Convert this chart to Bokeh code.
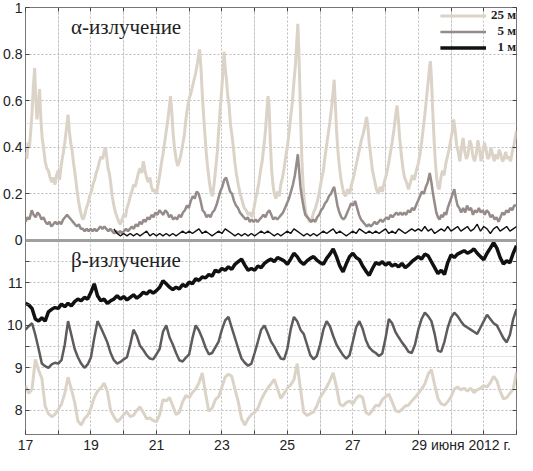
import numpy as np
from bokeh.plotting import figure
from bokeh.models import (Range1d, LinearAxis, FixedTicker, CustomJSTickFormatter,
                          Span, Label, Legend, LegendItem, Grid)
from bokeh.embed import file_html
from bokeh.resources import INLINE

# ---------------- data ----------------
DAY_TICKS = list(range(17, 33))
ALPHA_TICKS = [0.0, 0.2, 0.4, 0.6, 0.8, 1.0]
BETA_TICKS = [8.0, 8.5, 9.0, 9.5, 10.0, 10.5, 11.0, 11.5]
DATE_TEXT = "июня 2012 г."
DATE_DAY = 29
SERIES_NAMES = ["25 м", "\u20075 м", "\u20071 м"]
ALPHA_TITLE = "α-излучение"
BETA_TITLE = "β-излучение"

# alpha, 25 m  (day, value)
A25 = [(17.00,.38),(17.04,.35),(17.08,.42),(17.12,.40),(17.16,.47),(17.20,.55),(17.24,.66),(17.28,.74),
(17.31,.62),(17.35,.52),(17.39,.58),(17.43,.65),(17.47,.52),(17.51,.44),(17.55,.40),(17.60,.34),(17.65,.31),
(17.70,.30),(17.75,.27),(17.80,.25),(17.85,.27),(17.90,.24),(17.95,.28),(18.00,.30),(18.04,.26),(18.08,.31),
(18.12,.35),(18.16,.38),(18.20,.42),(18.25,.48),(18.30,.54),(18.34,.47),(18.38,.42),(18.42,.39),(18.47,.33),
(18.52,.28),(18.57,.22),(18.62,.17),(18.67,.13),(18.72,.10),(18.76,.09),(18.81,.11),(18.86,.14),(18.91,.16),
(18.96,.19),(19.01,.21),(19.06,.24),(19.11,.26),(19.16,.29),(19.21,.31),(19.26,.34),(19.31,.36),(19.36,.35),
(19.40,.38),(19.44,.40),(19.48,.36),(19.52,.31),(19.56,.29),(19.60,.25),(19.65,.19),(19.70,.15),(19.75,.12),
(19.80,.10),(19.85,.08),(19.90,.07),(19.95,.09),(20.00,.11),(20.05,.10),(20.10,.14),(20.15,.16),(20.20,.19),
(20.25,.21),(20.30,.24),(20.35,.23),(20.40,.26),(20.45,.29),(20.50,.31),(20.55,.29),(20.60,.34),(20.65,.30),
(20.70,.27),(20.75,.25),(20.80,.27),(20.85,.23),(20.90,.21),(20.95,.22),(21.00,.20),(21.05,.24),(21.10,.28),
(21.15,.33),(21.20,.37),(21.25,.42),(21.30,.47),(21.35,.52),(21.40,.58),(21.43,.62),(21.47,.55),(21.51,.46),
(21.55,.40),(21.60,.35),(21.65,.32),(21.70,.34),(21.75,.37),(21.80,.41),(21.85,.45),(21.90,.52),(21.95,.57),
(22.00,.61),(22.05,.63),(22.10,.66),(22.15,.69),(22.20,.72),(22.25,.76),(22.29,.80),(22.32,.82),(22.36,.74),
(22.40,.63),(22.44,.54),(22.48,.46),(22.52,.38),(22.56,.32),(22.61,.26),(22.66,.21),(22.71,.19),(22.76,.24),
(22.81,.31),(22.86,.38),(22.90,.47),(22.94,.55),(22.98,.62),(23.02,.70),(23.05,.77),(23.07,.81),(23.10,.74),
(23.14,.69),(23.18,.62),(23.22,.58),(23.26,.50),(23.30,.46),(23.35,.40),(23.40,.33),(23.45,.28),(23.50,.24),
(23.56,.20),(23.62,.17),(23.68,.14),(23.74,.13),(23.80,.11),(23.86,.12),(23.92,.10),(23.98,.14),(24.03,.18),
(24.08,.21),(24.13,.25),(24.18,.30),(24.23,.34),(24.28,.40),(24.33,.47),(24.37,.55),(24.41,.62),(24.44,.58),
(24.48,.42),(24.52,.30),(24.56,.24),(24.60,.20),(24.65,.18),(24.70,.21),(24.75,.19),(24.80,.24),(24.85,.27),
(24.90,.31),(24.95,.36),(25.00,.40),(25.05,.46),(25.10,.53),(25.15,.59),(25.20,.68),(25.25,.76),(25.29,.86),
(25.32,.93),(25.35,.82),(25.38,.66),(25.41,.50),(25.44,.36),(25.48,.24),(25.52,.17),(25.56,.12),(25.62,.10),
(25.68,.08),(25.74,.09),(25.80,.12),(25.86,.14),(25.92,.17),(25.98,.21),(26.04,.26),(26.10,.30),(26.15,.36),
(26.20,.41),(26.25,.46),(26.30,.51),(26.35,.57),(26.40,.64),(26.43,.69),(26.46,.60),(26.50,.48),(26.54,.39),
(26.58,.33),(26.63,.27),(26.68,.23),(26.73,.20),(26.78,.19),(26.84,.22),(26.90,.20),(26.96,.24),(27.02,.27),
(27.08,.31),(27.14,.35),(27.20,.39),(27.26,.43),(27.32,.46),(27.38,.50),(27.42,.53),(27.46,.49),(27.50,.42),
(27.55,.36),(27.60,.30),(27.66,.26),(27.72,.22),(27.78,.20),(27.84,.23),(27.90,.21),(27.96,.25),(28.02,.28),
(28.08,.32),(28.14,.37),(28.20,.42),(28.26,.48),(28.31,.54),(28.35,.58),(28.39,.52),(28.43,.44),(28.48,.37),
(28.53,.31),(28.58,.27),(28.64,.25),(28.70,.22),(28.76,.25),(28.82,.28),(28.88,.26),(28.94,.30),(29.00,.33),
(29.05,.37),(29.10,.42),(29.15,.48),(29.20,.54),(29.25,.61),(29.30,.68),(29.34,.74),(29.37,.77),(29.40,.70),
(29.44,.56),(29.48,.44),(29.52,.34),(29.56,.27),(29.60,.23),(29.64,.22),(29.69,.27),(29.74,.30),(29.79,.28),
(29.84,.33),(29.89,.36),(29.94,.39),(29.99,.43),(30.04,.47),(30.08,.52),(30.12,.48),(30.17,.41),(30.22,.38),
(30.27,.34),(30.32,.40),(30.37,.44),(30.42,.38),(30.47,.35),(30.52,.37),(30.57,.43),(30.62,.41),(30.67,.36),
(30.72,.34),(30.77,.37),(30.82,.43),(30.87,.39),(30.92,.34),(30.97,.38),(31.02,.42),(31.07,.39),(31.12,.35),
(31.17,.36),(31.22,.40),(31.27,.37),(31.32,.34),(31.37,.37),(31.42,.35),(31.47,.39),(31.52,.37),(31.57,.34),
(31.62,.35),(31.67,.38),(31.72,.35),(31.77,.36),(31.82,.34),(31.87,.38),(31.92,.41),(31.96,.44),(32.00,.47)]

# alpha, 5 m  (day, value)
A5 = [(17.00,.08),(17.06,.10),(17.12,.09),(17.19,.13),(17.25,.11),(17.31,.10),(17.37,.12),(17.43,.11),
(17.49,.09),(17.55,.10),(17.61,.08),(17.67,.07),(17.73,.08),(17.79,.06),(17.85,.07),(17.91,.08),(17.97,.07),
(18.03,.08),(18.09,.07),(18.15,.09),(18.21,.10),(18.27,.11),(18.33,.10),(18.39,.09),(18.45,.08),(18.51,.07),
(18.57,.06),(18.63,.07),(18.69,.05),(18.75,.05),(18.81,.04),(18.87,.05),(18.93,.04),(18.99,.05),(19.05,.04),
(19.11,.05),(19.17,.04),(19.23,.05),(19.29,.06),(19.35,.05),(19.41,.06),(19.47,.05),(19.53,.04),(19.59,.05),
(19.65,.04),(19.71,.03),(19.77,.04),(19.83,.03),(19.89,.04),(19.95,.03),(20.01,.04),(20.07,.05),(20.13,.04),
(20.19,.05),(20.25,.06),(20.31,.05),(20.37,.07),(20.43,.06),(20.49,.08),(20.55,.07),(20.61,.09),(20.67,.08),
(20.73,.10),(20.79,.09),(20.85,.11),(20.91,.10),(20.97,.12),(21.03,.11),(21.09,.13),(21.15,.12),(21.21,.11),
(21.27,.13),(21.33,.12),(21.39,.10),(21.45,.11),(21.51,.09),(21.57,.10),(21.63,.09),(21.69,.11),(21.75,.10),
(21.81,.12),(21.87,.13),(21.93,.15),(21.99,.14),(22.05,.17),(22.11,.19),(22.17,.18),(22.23,.21),(22.29,.20),
(22.35,.17),(22.41,.13),(22.47,.12),(22.53,.10),(22.59,.11),(22.65,.10),(22.71,.12),(22.77,.13),(22.83,.15),
(22.89,.18),(22.95,.21),(23.01,.23),(23.07,.26),(23.13,.27),(23.19,.24),(23.25,.21),(23.31,.20),(23.37,.17),
(23.43,.15),(23.49,.14),(23.55,.12),(23.61,.11),(23.67,.10),(23.73,.09),(23.79,.10),(23.85,.08),(23.91,.09),
(23.97,.08),(24.03,.09),(24.09,.08),(24.15,.09),(24.21,.10),(24.27,.11),(24.33,.10),(24.39,.12),(24.45,.13),
(24.51,.11),(24.57,.09),(24.63,.10),(24.69,.09),(24.75,.10),(24.81,.11),(24.87,.12),(24.93,.14),(24.99,.16),
(25.05,.18),(25.11,.21),(25.17,.24),(25.23,.28),(25.29,.34),(25.32,.37),(25.36,.30),(25.40,.23),(25.45,.18),
(25.50,.14),(25.55,.11),(25.61,.10),(25.67,.09),(25.73,.08),(25.79,.09),(25.85,.08),(25.91,.10),(25.97,.11),
(26.03,.13),(26.09,.14),(26.15,.16),(26.21,.17),(26.27,.19),(26.33,.20),(26.39,.22),(26.43,.23),(26.48,.19),
(26.53,.15),(26.59,.12),(26.65,.10),(26.71,.09),(26.77,.10),(26.83,.12),(26.89,.14),(26.95,.16),(27.01,.15),
(27.07,.17),(27.13,.14),(27.19,.11),(27.25,.09),(27.31,.08),(27.37,.07),(27.43,.06),(27.49,.07),(27.55,.06),
(27.61,.07),(27.67,.08),(27.73,.07),(27.79,.08),(27.85,.09),(27.91,.08),(27.97,.09),(28.03,.10),(28.09,.09),
(28.15,.11),(28.21,.10),(28.27,.11),(28.33,.12),(28.39,.11),(28.45,.12),(28.51,.11),(28.57,.12),(28.63,.11),
(28.69,.13),(28.75,.12),(28.81,.14),(28.87,.13),(28.93,.15),(28.99,.17),(29.05,.19),(29.11,.21),(29.17,.20),
(29.23,.23),(29.29,.25),(29.35,.29),(29.40,.25),(29.45,.20),(29.50,.16),(29.55,.12),(29.60,.10),(29.65,.09),
(29.70,.11),(29.75,.10),(29.80,.12),(29.85,.11),(29.90,.14),(29.95,.16),(30.00,.18),(30.05,.20),(30.10,.22),
(30.15,.18),(30.20,.15),(30.25,.14),(30.31,.12),(30.37,.14),(30.43,.12),(30.49,.15),(30.55,.13),(30.61,.14),
(30.67,.11),(30.73,.13),(30.79,.12),(30.85,.14),(30.91,.12),(30.97,.13),(31.03,.11),(31.09,.13),(31.15,.12),
(31.21,.10),(31.27,.11),(31.33,.09),(31.39,.10),(31.45,.08),(31.51,.10),(31.57,.12),(31.63,.11),(31.69,.13),
(31.75,.12),(31.81,.14),(31.87,.13),(31.93,.15),(32.00,.15)]

# alpha, 1 m: values every 0.1 day starting at day 19.7
A1_START = 19.7
A1 = [.05,.03,.02,.03,.02,.03,.02,.03,.02,.03,.04,.02,.03,.02,.03,.02,.03,.02,.03,.02,.03,.04,.03,.04,.03,.04,
.05,.03,.04,.03,.02,.03,.04,.03,.05,.04,.03,.02,.03,.02,.03,.02,.03,.02,.03,.04,.03,.04,.03,.02,.03,.02,.03,.04,
.03,.05,.04,.03,.02,.03,.02,.03,.02,.03,.04,.03,.04,.05,.03,.04,.03,.02,.03,.04,.03,.05,.04,.03,.04,.03,.04,.03,
.04,.05,.03,.04,.03,.05,.04,.03,.04,.05,.04,.05,.04,.06,.04,.05,.03,.04,.05,.04,.06,.04,.05,.06,.04,.05,.06,.04,
.05,.07,.04,.06,.05,.03,.05,.06,.04,.05,.06,.04,.05,.06]

# beta series: values every 0.1 day from day 17.0 to 32.0
B_START = 17.0
B1 = [10.52,10.48,10.40,10.15,10.10,10.18,10.10,10.32,10.38,10.42,10.40,10.50,10.44,10.52,10.46,10.56,10.62,
10.58,10.66,10.62,10.78,10.98,10.70,10.58,10.62,10.52,10.58,10.62,10.70,10.62,10.68,10.60,10.66,10.72,10.64,
10.70,10.78,10.74,10.82,10.76,10.82,10.90,11.05,10.98,10.90,10.84,10.90,10.86,10.96,10.92,11.02,10.98,11.10,
11.06,11.14,11.12,11.20,11.16,11.30,11.26,11.34,11.30,11.38,11.32,11.44,11.50,11.56,11.42,11.30,11.34,11.30,
11.40,11.36,11.46,11.52,11.56,11.50,11.60,11.56,11.52,11.44,11.56,11.70,11.62,11.50,11.44,11.52,11.58,11.62,
11.54,11.48,11.44,11.58,11.68,11.80,11.62,11.40,11.26,11.45,11.62,11.70,11.60,11.55,11.40,11.28,11.18,11.34,
11.48,11.44,11.50,11.42,11.48,11.40,11.44,11.38,11.46,11.36,11.42,11.50,11.56,11.62,11.56,11.68,11.64,11.50,
11.36,11.22,11.30,11.20,11.48,11.66,11.60,11.68,11.72,11.76,11.70,11.74,11.80,11.70,11.62,11.55,11.70,11.82,
11.95,11.82,11.60,11.45,11.52,11.48,11.70,11.88]
B5 = [9.90,9.98,10.05,9.78,9.45,9.10,9.04,9.00,9.08,9.12,9.10,9.18,9.55,10.10,9.78,9.45,9.25,9.10,9.00,9.08,
9.25,9.70,10.10,9.95,9.78,9.60,9.35,9.18,9.10,9.14,9.20,9.25,9.55,9.90,9.75,9.52,9.42,9.30,9.22,9.20,9.32,9.45,
9.85,10.00,9.72,9.55,9.35,9.18,9.15,9.24,9.32,9.70,10.00,9.88,9.70,9.48,9.32,9.35,9.48,9.62,9.90,10.12,10.20,
9.95,9.70,9.45,9.22,9.12,9.05,9.10,9.35,9.62,9.90,10.00,9.82,9.62,9.50,9.35,9.22,9.20,9.45,9.90,10.20,10.10,
9.90,9.80,9.55,9.30,9.20,9.28,9.55,9.90,10.10,9.98,9.75,9.55,9.42,9.30,9.22,9.30,9.62,9.95,10.10,9.92,9.65,
9.48,9.40,9.35,9.28,9.34,9.70,10.15,10.05,9.85,9.72,9.60,9.50,9.38,9.35,9.55,9.90,10.15,10.30,10.22,10.10,
9.80,9.40,9.38,9.62,9.95,10.18,10.30,10.22,10.10,10.00,9.95,9.90,9.85,9.80,9.95,10.10,10.25,10.15,10.05,10.00,
9.85,9.70,9.60,9.78,10.15,10.38]
B25 = [8.58,8.40,8.50,9.20,8.95,8.75,8.10,7.92,7.85,7.90,8.02,8.15,8.40,8.78,8.50,8.20,7.75,7.65,7.80,7.88,
8.05,8.30,8.45,8.52,8.64,8.45,8.00,7.85,7.73,7.80,7.90,7.96,7.85,7.88,8.00,8.08,7.95,7.80,7.82,7.76,7.73,7.90,
8.25,8.22,8.30,8.10,7.90,7.95,8.20,8.35,8.30,8.42,8.50,8.65,8.88,8.40,7.98,8.05,8.25,8.32,8.55,8.78,8.85,8.80,
8.50,8.20,7.80,7.65,7.80,7.90,7.95,8.05,8.25,8.40,8.52,8.62,8.73,8.50,8.28,8.40,8.52,8.60,8.72,9.10,8.50,7.95,
7.88,7.92,7.96,8.10,8.30,8.42,8.55,8.70,8.88,8.55,8.15,8.10,8.18,8.22,8.15,8.28,8.35,8.30,7.95,7.90,8.00,8.12,
8.10,8.25,8.32,8.38,8.20,8.00,7.96,8.02,8.10,8.12,8.22,8.30,8.40,8.50,8.62,8.85,8.96,8.60,8.28,8.15,8.12,8.20,
8.32,8.50,8.55,8.48,8.52,8.45,8.52,8.42,8.48,8.52,8.58,8.55,8.65,8.80,8.70,8.45,8.27,8.30,8.40,8.50,8.90]

# ---------------- layout / style ----------------
W, H = 517, 455
BORDER_L, BORDER_R, BORDER_T, BORDER_B = 25, 1, 7, 18
TOP_FRAC = 239 / 438          # share of the frame used by the alpha panel
X_MIN, X_MAX = 17, 32
ALPHA_MAX = 1.0
BETA_MIN, BETA_SPLIT = 7.43, 12.0

C25 = "#dcd3c8"
C5_TOP = "#958b89"
C5_BOT = "#5f5b5b"
C1 = "#111111"
GRID_C = "#bdbdbd"
TEXT_C = "#222222"

a0 = -ALPHA_MAX * (1 - TOP_FRAC) / TOP_FRAC
b1 = BETA_MIN + (BETA_SPLIT - BETA_MIN) / (1 - TOP_FRAC)

p = figure(width=W, height=H, x_range=Range1d(X_MIN, X_MAX), y_range=Range1d(a0, ALPHA_MAX),
           output_backend="svg", toolbar_location=None,
           x_axis_location=None, y_axis_location=None,
           min_border_left=BORDER_L, min_border_right=BORDER_R,
           min_border_top=BORDER_T, min_border_bottom=BORDER_B)
p.extra_y_ranges = {"beta": Range1d(BETA_MIN, b1)}
p.outline_line_color = "#777777"
p.outline_line_width = 1
p.background_fill_color = "white"
p.border_fill_color = "white"

y_tick_pos = ALPHA_TICKS + [a0 + (b - BETA_MIN) / (b1 - BETA_MIN) * (ALPHA_MAX - a0) for b in BETA_TICKS]
y_ticker = FixedTicker(ticks=y_tick_pos, minor_ticks=[])
x_ticker = FixedTicker(ticks=DAY_TICKS, minor_ticks=[])

y_fmt = CustomJSTickFormatter(args=dict(a0=a0, a1=ALPHA_MAX, b0=BETA_MIN, b1=b1), code="""
if (tick > -1e-6) {
  if (Math.abs(tick) < 1e-6) return "0";
  if (Math.abs(tick - 1) < 1e-6) return "1";
  return tick.toFixed(1);
}
const b = b0 + (tick - a0) / (a1 - a0) * (b1 - b0);
const r = Math.round(b);
return Math.abs(b - r) < 1e-6 ? String(r) : "";
""")
# the date text follows the label of DATE_DAY; figure spaces on the left keep "29" centred on its tick
x_fmt = CustomJSTickFormatter(args=dict(date=DATE_TEXT, dday=DATE_DAY), code="""
const d = Math.round(tick);
if (d == dday) return "\\u2007".repeat(11) + String(d) + "\\u00a0" + date;
return (d % 2 == 1 && d < dday) ? String(d) : "";
""")
blank = CustomJSTickFormatter(code="return '';")

def style_axis(ax, labels=True):
    ax.major_tick_in = 4
    ax.major_tick_out = 0
    ax.major_tick_line_color = "#444444"
    ax.minor_tick_line_color = None
    ax.axis_line_color = None
    if labels:
        ax.major_label_text_font = "Liberation Sans"
        ax.major_label_text_font_size = "14px"
        ax.major_label_text_color = TEXT_C
    else:
        ax.major_label_text_font_size = "0px"
        ax.major_label_standoff = 0

left = LinearAxis(ticker=y_ticker, formatter=y_fmt)
style_axis(left)
left.major_label_standoff = 3
p.add_layout(left, "left")

right = LinearAxis(ticker=y_ticker, formatter=blank)
style_axis(right, labels=False)
p.add_layout(right, "right")

bottom = LinearAxis(ticker=x_ticker, formatter=x_fmt)
style_axis(bottom)
bottom.major_label_standoff = 2
p.add_layout(bottom, "below")

top = LinearAxis(ticker=x_ticker, formatter=blank)
style_axis(top, labels=False)
p.add_layout(top, "above")

p.add_layout(Grid(dimension=0, ticker=x_ticker, grid_line_color=GRID_C, grid_line_dash="2 2"))
p.add_layout(Grid(dimension=1, ticker=y_ticker, grid_line_color=GRID_C, grid_line_dash="2 2"))

# ---------------- series ----------------
a25_t, a25_v = zip(*A25)
a5_t, a5_v = zip(*A5)
a1_t = A1_START + 0.1 * np.arange(len(A1))

r_a25 = p.line(list(a25_t), list(a25_v), line_color=C25, line_width=3)
r_a5 = p.line(list(a5_t), list(a5_v), line_color=C5_TOP, line_width=2.5)
r_a1 = p.line(a1_t, A1, line_color=C1, line_width=1.4)

r_b25 = p.line(B_START + 0.1 * np.arange(len(B25)), B25, line_color=C25, line_width=3, y_range_name="beta")
r_b5 = p.line(B_START + 0.1 * np.arange(len(B5)), B5, line_color=C5_BOT, line_width=2.5, y_range_name="beta")
r_b1 = p.line(B_START + 0.1 * np.arange(len(B1)), B1, line_color=C1, line_width=3.5, y_range_name="beta")

# separation line between the two panels (alpha = 0)
p.add_layout(Span(location=0, dimension="width", line_color="#a0a0a0", line_width=3))

# ---------------- texts ----------------
p.add_layout(Label(x=18.39, y=0.916, text=ALPHA_TITLE, text_font="Liberation Serif",
                   text_font_size="21px", text_baseline="middle", text_color=TEXT_C))
p.add_layout(Label(x=18.39, y=11.53, y_range_name="beta", text=BETA_TITLE, text_font="Liberation Serif",
                   text_font_size="21px", text_baseline="middle", text_color=TEXT_C))

legend = Legend(items=[LegendItem(label=SERIES_NAMES[0], renderers=[r_a25]),
                       LegendItem(label=SERIES_NAMES[1], renderers=[r_a5]),
                       LegendItem(label=SERIES_NAMES[2], renderers=[r_b1])],
                location="top_right")
legend.background_fill_alpha = 0
legend.border_line_color = None
legend.glyph_width = 46
legend.glyph_height = 15
legend.label_height = 15
legend.spacing = 0
legend.padding = 3
legend.margin = 0
legend.label_standoff = 5
legend.label_text_font = "Liberation Serif"
legend.label_text_font_style = "bold"
legend.label_text_font_size = "13px"
legend.label_text_color = TEXT_C
p.add_layout(legend)

open("out.html", "w").write(file_html(p, INLINE))
